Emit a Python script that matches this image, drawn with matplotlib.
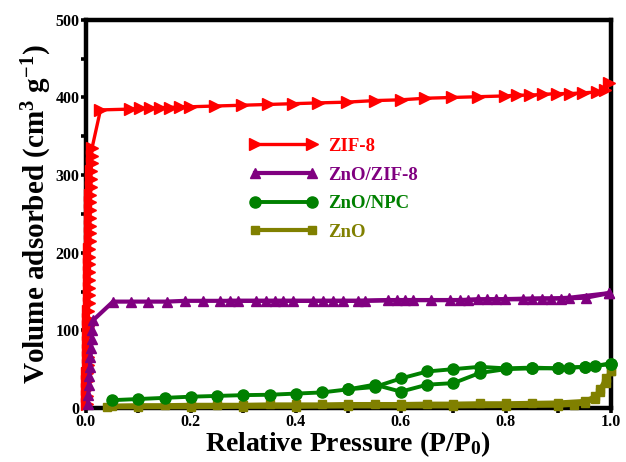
import matplotlib
matplotlib.use('Agg')
import matplotlib.pyplot as plt

# ==========================================
# DATA
# ==========================================
# ZIF-8 : low-pressure uptake then plateau
zif8_x = [0.002, 0.002, 0.003, 0.003, 0.003, 0.004, 0.004, 0.004, 0.004, 0.005,
          0.005, 0.005, 0.005, 0.006, 0.006, 0.006, 0.006, 0.007, 0.007, 0.007,
          0.007, 0.008, 0.008, 0.008, 0.008, 0.009, 0.009, 0.009, 0.010, 0.010,
          0.010, 0.011, 0.011, 0.012,
          0.028, 0.084, 0.103, 0.122, 0.141, 0.160, 0.179, 0.198, 0.246, 0.297,
          0.347, 0.394, 0.442, 0.497, 0.550, 0.600, 0.646, 0.697, 0.747, 0.798,
          0.821, 0.846, 0.870, 0.897, 0.922, 0.947, 0.973, 0.989, 0.996]
zif8_y = [5, 15, 25, 35, 45, 55, 65, 75, 85, 95,
          105, 115, 125, 135, 145, 155, 165, 175, 185, 195,
          205, 215, 225, 235, 245, 255, 265, 275, 285, 295,
          305, 315, 325, 335,
          384, 385, 386, 386, 387, 387, 388, 388, 389, 390,
          391, 392, 393, 394, 396, 397, 399, 400, 401, 402,
          403, 403, 404, 405, 405, 406, 407, 410, 419]

# ZnO/ZIF-8
znozif_x = [0.004, 0.005, 0.006, 0.007, 0.008, 0.009, 0.010, 0.011, 0.012, 0.014,
            0.052, 0.087, 0.118, 0.154, 0.189, 0.223, 0.255, 0.290, 0.325, 0.360,
            0.394, 0.432, 0.470, 0.519, 0.576, 0.608, 0.658, 0.693, 0.728, 0.763,
            0.798, 0.833, 0.868, 0.905, 0.952, 0.997]
znozif_y = [5, 17, 29, 41, 53, 65, 77, 89, 101, 113,
            137, 137, 137, 137, 138, 138, 138, 138, 138, 138,
            138, 138, 138, 138, 139, 139, 139, 139, 139, 140,
            140, 140, 141, 141, 142, 148]
znozif_des_x = [0.997, 0.921, 0.886, 0.849, 0.782, 0.747, 0.712, 0.624, 0.592,
                0.531, 0.490, 0.451, 0.375, 0.344, 0.274]
znozif_des_y = [148, 142, 141, 141, 140, 140, 139, 139, 139,
                138, 138, 138, 138, 138, 138]

# ZnO/NPC
znonpc_x = [0.05, 0.10, 0.15, 0.20, 0.25, 0.30, 0.35, 0.40, 0.45, 0.50,
            0.55, 0.60, 0.65, 0.70, 0.75, 0.80, 0.85, 0.90, 0.92, 0.95,
            0.97, 1.00]
znonpc_y = [10, 11.5, 13, 14.5, 15.5, 16.5, 17, 18.5, 20, 24,
            30, 21, 30, 32, 45, 50, 51, 51, 52, 53,
            54, 57]
znonpc_des_x = [1.00, 0.95, 0.90, 0.85, 0.80, 0.75, 0.70, 0.65, 0.60, 0.55, 0.50]
znonpc_des_y = [57, 53, 51, 52, 51, 53, 50, 47, 38, 27, 24]

# ZnO
zno_x = [0.04, 0.10, 0.20, 0.30, 0.40, 0.50, 0.60, 0.70, 0.80, 0.90,
         0.93, 0.95, 0.97, 0.98, 0.99, 1.00]
zno_y = [1, 1, 1, 1.5, 1.5, 2, 2, 2, 2.5, 3,
         4, 6, 12, 20, 32, 47]
zno_des_x = [1.00, 0.99, 0.98, 0.97, 0.95, 0.90, 0.85, 0.80, 0.75, 0.70,
             0.65, 0.60, 0.55, 0.50, 0.45, 0.40, 0.35, 0.30, 0.25, 0.20,
             0.15, 0.10, 0.05]
zno_des_y = [47, 38, 25, 15, 9, 7, 6.5, 6, 6, 5.5,
             5.5, 5, 5, 5, 4.5, 4.5, 4.5, 4, 4, 4,
             3.5, 3.5, 3]

x_ticks = [0.0, 0.2, 0.4, 0.6, 0.8, 1.0]
y_ticks = [0, 100, 200, 300, 400, 500]

# ==========================================
# STYLE
# ==========================================
plt.rcParams['font.family'] = ['Liberation Serif', 'DejaVu Serif']
plt.rcParams['font.weight'] = 'bold'
plt.rcParams['axes.labelweight'] = 'bold'
plt.rcParams['mathtext.fontset'] = 'custom'
plt.rcParams['mathtext.rm'] = 'Liberation Serif:bold'
plt.rcParams['mathtext.it'] = 'Liberation Serif:bold'
plt.rcParams['mathtext.bf'] = 'Liberation Serif:bold'

RED = '#ff0000'
PURPLE = '#800080'
GREEN = '#008000'
OLIVE = '#808000'

fig = plt.figure(figsize=(6.26, 4.62), dpi=100)
ax = fig.add_axes([0.137, 0.117, 0.839, 0.840])

ax.plot(zif8_x, zif8_y, color=RED, marker='>', ms=8, lw=2.4,
        label='ZIF-8', clip_on=False, zorder=3)

ax.plot(znozif_x, znozif_y, color=PURPLE, marker='^', ms=7, lw=3,
        label='ZnO/ZIF-8', clip_on=False, zorder=4)
ax.plot(znozif_des_x, znozif_des_y, color=PURPLE, marker='^', ms=7, lw=3,
        clip_on=False, zorder=4)

ax.plot(zno_x, zno_y, color=OLIVE, marker='s', ms=6, lw=3,
        label='ZnO', clip_on=False, zorder=5)
ax.plot(zno_des_x, zno_des_y, color=OLIVE, marker='s', ms=6, lw=3,
        clip_on=False, zorder=5)

ax.plot(znonpc_x, znonpc_y, color=GREEN, marker='o', ms=8, lw=2.8,
        label='ZnO/NPC', clip_on=False, zorder=6)
ax.plot(znonpc_des_x, znonpc_des_y, color=GREEN, marker='o', ms=8, lw=2.8,
        clip_on=False, zorder=6)

ax.set_xlim(0, 1.0)
ax.set_ylim(0, 500)
ax.set_xticks(x_ticks)
ax.set_xticklabels(['%.1f' % v for v in x_ticks])
ax.set_yticks(y_ticks)
ax.set_xticks([0.1, 0.3, 0.5, 0.7, 0.9], minor=True)
ax.set_yticks([50, 150, 250, 350, 450], minor=True)

for s in ax.spines.values():
    s.set_linewidth(3.2)
    s.set_zorder(2)
ax.tick_params(which='both', direction='out', length=3.5, width=2.6,
               top=False, right=False)
ax.tick_params(axis='both', which='major', labelsize=11.5, pad=1)

ax.set_xlabel('Relative Pressure (P/P$_\\mathbf{0}$)', fontsize=20,
              fontweight='bold', labelpad=-1)
ax.set_ylabel('Volume adsorbed (cm$^\\mathbf{3}$ g$^\\mathbf{-1}$)', fontsize=21,
              fontweight='bold', labelpad=1)

# legend in same order as reference
handles, labels = ax.get_legend_handles_labels()
order = ['ZIF-8', 'ZnO/ZIF-8', 'ZnO/NPC', 'ZnO']
hmap = dict(zip(labels, handles))
leg = ax.legend([hmap[k] for k in order], order, loc='upper left',
                bbox_to_anchor=(0.28, 0.74), frameon=False, numpoints=2,
                handlelength=3.6, labelspacing=0.62, handletextpad=0.6,
                prop={'family': 'Liberation Serif', 'weight': 'bold', 'size': 13.5},
                labelcolor='linecolor')

fig.savefig('out.png', dpi=100)
